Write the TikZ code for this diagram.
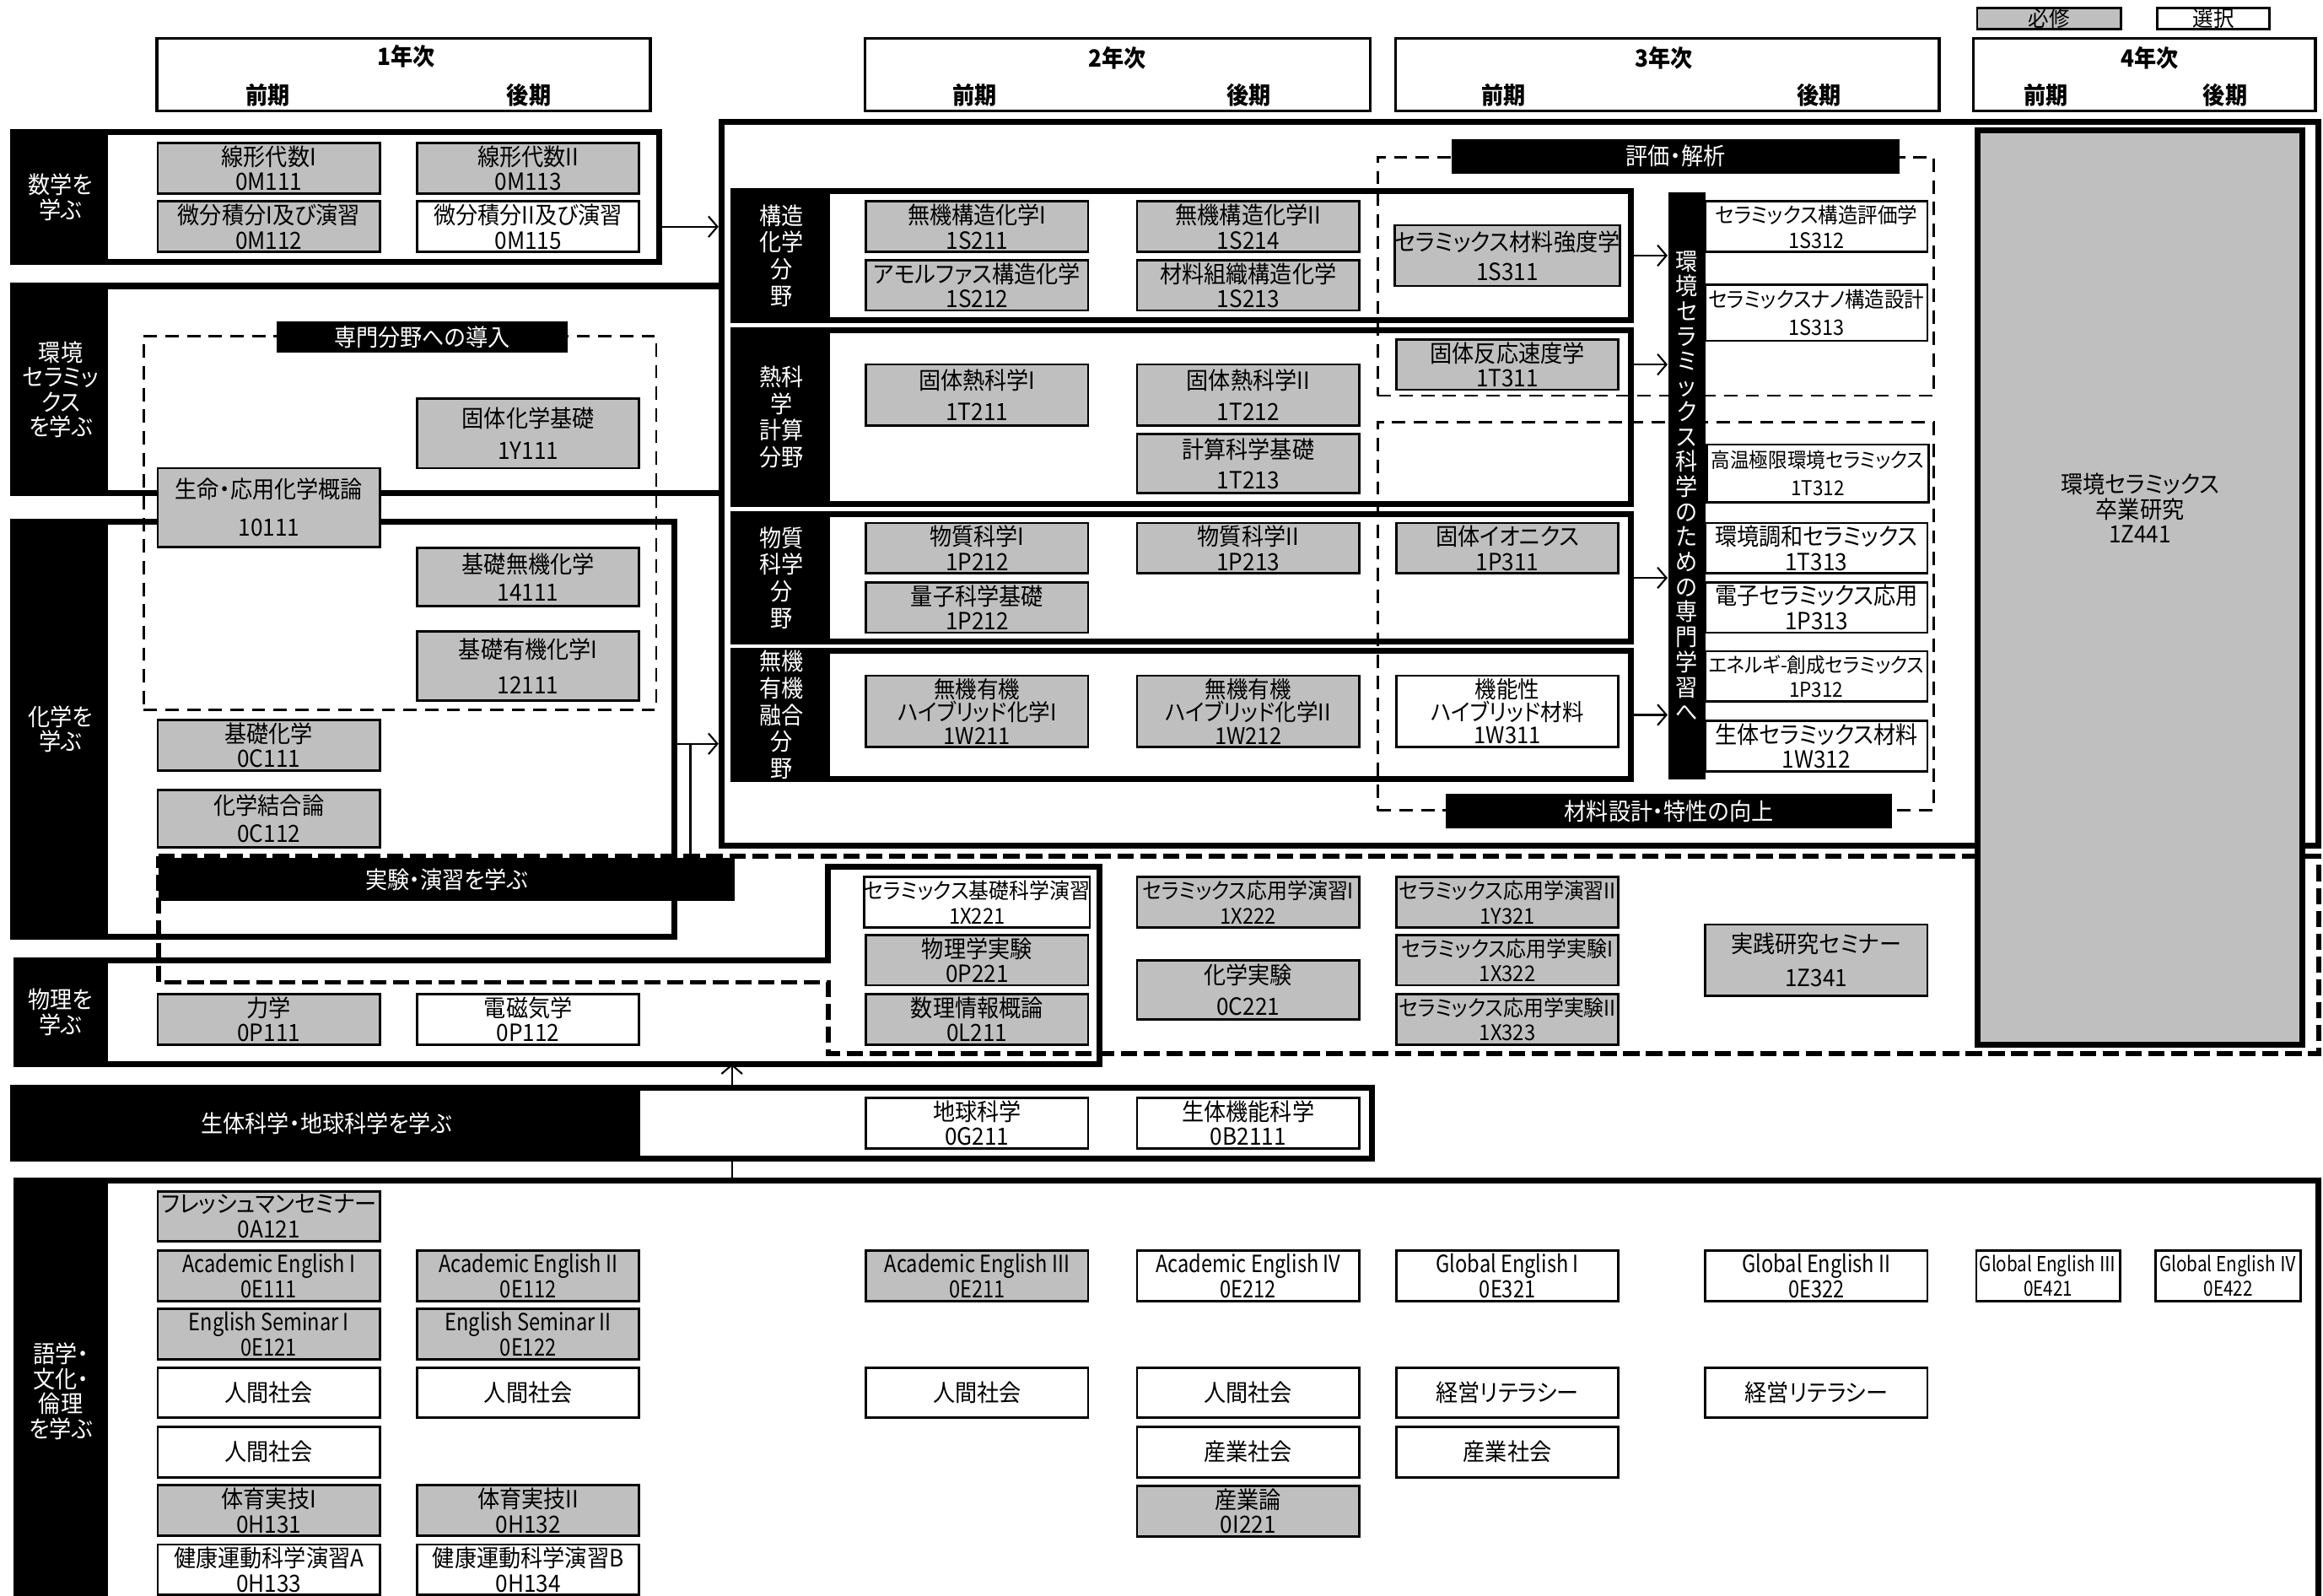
\documentclass[tikz,border=0pt]{standalone}
\usepackage{fontspec}
\setmainfont{Noto Sans CJK JP}[FakeStretch=0.93,RawFeature=+palt]
\newfontfamily\narrowfont{Noto Sans CJK JP}[FakeStretch=0.84]
\usepackage{tikz}
\usetikzlibrary{arrows.meta,calc,positioning}
\definecolor{reqgray}{RGB}{191,191,191}
\newcommand{\pxunit}{0.017564cm}
\newcommand{\cf}{\fontsize{8}{8.4}\selectfont}
\newcommand{\hybfont}{\fontsize{7.8}{7.8}\selectfont\lineskiplimit-4pt\relax}

\begin{document}
\begin{tikzpicture}[
    x=\pxunit, y=-\pxunit,
    bw/.style={minimum width=#1*\pxunit},
    bh/.style={minimum height=#1*\pxunit},
    grp/.style={draw, line width=2pt, inner sep=0pt},
    glabel/.style={fill=black, text=white, inner sep=0pt, align=center, font=\cf},
    flabel/.style={glabel, bw=65, font=\fontsize{8}{9}\selectfont},
    course/.style={draw, line width=0.8pt, inner sep=0pt, align=center, font=\cf, bw=150, bh=34},
    req/.style={course, fill=reqgray},
    opt/.style={course, fill=white},
    tight/.style={font=\fontsize{7.3}{8.4}\selectfont},
    rtight/.style={font=\fontsize{7.2}{8.4}\selectfont},
    hyb/.style={font=\hybfont},
    eng/.style={font=\narrowfont\fontsize{8}{8.4}\selectfont},
    yearbox/.style={draw, line width=1pt, bh=49, inner sep=0pt},
    yeartext/.style={font=\bfseries\cf, inner sep=0pt},
    thindash/.style={draw, line width=0.8pt, dash pattern=on 4.5pt off 2.8pt, inner sep=0pt},
    labdash/.style={line width=1.6pt, dash pattern=on 5.5pt off 2.2pt},
    arr/.style={-{Straight Barb[length=3pt,width=7pt]}, line width=0.6pt}
]
    \useasboundingbox (0,0) rectangle (1568,1077);

    \node[course, fill=reqgray, bw=97, bh=14, font=\fontsize{7.5}{7.5}\selectfont] (legreq) at (1383,12.5) {必修};
    \node[course, fill=white, bw=76, bh=14, font=\fontsize{7.5}{7.5}\selectfont] (legopt) at (1494,12.5) {選択};

    \node[yearbox, bw=333] (yr1) at (272.5,50.5) {};
    \node[yeartext] (yr1t) at (274,38) {1年次};
    \node[yeartext] (yr1a) at (181,64) {前期};
    \node[yeartext] (yr1b) at (357,64) {後期};
    \node[yearbox, bw=341] (yr2) at (754.5,50.5) {};
    \node[yeartext] (yr2t) at (754,39) {2年次};
    \node[yeartext] (yr2a) at (658,64) {前期};
    \node[yeartext] (yr2b) at (843,64) {後期};
    \node[yearbox, bw=367] (yr3) at (1125.5,50.5) {};
    \node[yeartext] (yr3t) at (1123,39) {3年次};
    \node[yeartext] (yr3a) at (1015,64) {前期};
    \node[yeartext] (yr3b) at (1228,64) {後期};
    \node[yearbox, bw=231] (yr4) at (1447.5,50.5) {};
    \node[yeartext] (yr4t) at (1451,39) {4年次};
    \node[yeartext] (yr4a) at (1381,64) {前期};
    \node[yeartext] (yr4b) at (1502,64) {後期};

    \node[grp, bw=1078, bh=489] (spec) at (1026,326.5) {};
    \node[grp, bw=436, bh=88] (math) at (227,133) {};
    \node[grp, bw=478, bh=140] (env) at (248,263) {};
    \node[grp, bw=446, bh=280] (chem) at (232,492) {};
    \node[grp, bw=917, bh=48] (bio) at (467.5,758) {};
    \draw[line width=2pt] (9,648) -- (559,648) -- (559,585) -- (742,585) -- (742,718) -- (9,718);
    \draw[line width=2pt] (9,797) -- (1565,797) -- (1565,1082);

    \node[thindash, bw=346, bh=252] (intro) at (270,353) {};
    \node[thindash, bw=375, bh=161] (eval) at (1117.5,186.5) {};
    \node[thindash, bw=375, bh=262] (design) at (1117.5,416) {};
    \draw[labdash] (107,578) -- (1565,578) -- (1565,711) -- (559,711) -- (559,663) -- (107,663) -- cycle;

    \node[grp, bw=606, bh=87] (fstruct) at (798,172.5) {};
    \node[grp, bw=606, bh=117] (fthermo) at (798,281.5) {};
    \node[grp, bw=606, bh=86] (fmat) at (798,390) {};
    \node[grp, bw=606, bh=87] (fhyb) at (798,482.5) {};

    \node[glabel, bw=64, bh=88] (lmath) at (41,133) {数学を\\学ぶ};
    \node[glabel, bw=64, bh=140] (lenv) at (41,263) {環境\\セラミッ\\クス\\を学ぶ};
    \node[glabel, bw=64, bh=280] (lchem) at (41,492) {化学を\\学ぶ};
    \node[glabel, bw=64, bh=70] (lphys) at (41,683) {物理を\\学ぶ};
    \node[glabel, bw=423, bh=48] (lbio) at (220.5,758) {生体科学・地球科学を学ぶ};
    \node[glabel, bw=64, bh=284] (llang) at (41,939) {語学・\\文化・\\倫理\\を学ぶ};
    \node[flabel, bh=87] (lstruct) at (527.5,172.5) {構造\\化学\\分\\野};
    \node[flabel, bh=117] (lthermo) at (527.5,281.5) {熱科\\学\\計算\\分野};
    \node[flabel, bh=86] (lmat) at (527.5,390) {物質\\科学\\分\\野};
    \node[flabel, bh=87] (lhyb) at (527.5,482.5) {無機\\有機\\融合\\分\\野};
    \node[glabel, bw=196, bh=21] (lintro) at (285,227.5) {専門分野への導入};
    \node[glabel, bw=302, bh=23] (leval) at (1131,105.5) {評価・解析};
    \node[glabel, bw=301, bh=23] (ldesign) at (1126.5,547.5) {材料設計・特性の向上};
    \node[glabel, bw=389, bh=29] (llab) at (301.5,593.5) {実験・演習を学ぶ};

    \node[req] (m111) at (181.5,113.5) {線形代数I\\0M111};
    \node[req] (m113) at (356.5,113.5) {線形代数II\\0M113};
    \node[req] (m112) at (181.5,153) {微分積分I及び演習\\0M112};
    \node[opt] (m115) at (356.5,153) {微分積分II及び演習\\0M115};

    \node[req, bh=47] (y111) at (356.5,292.5) {固体化学基礎\\[2.5pt]1Y111};
    \node[req, bh=53] (a111) at (181.5,342.5) {生命・応用化学概論\\[4.5pt]10111};
    \node[req, bh=39] (i111) at (356.5,389.5) {基礎無機化学\\[1pt]14111};
    \node[req, bh=47] (o111) at (356.5,449.5) {基礎有機化学I\\[3.5pt]12111};
    \node[req] (c111) at (181.5,503) {基礎化学\\0C111};
    \node[req, bh=39] (c112) at (181.5,552.5) {化学結合論\\[1pt]0C112};

    \node[req] (s211) at (659.5,153) {無機構造化学I\\1S211};
    \node[req] (s212) at (659.5,192.5) {アモルファス構造化学\\1S212};
    \node[req] (s214) at (842.5,153) {無機構造化学II\\1S214};
    \node[req] (s213) at (842.5,192.5) {材料組織構造化学\\1S213};
    \node[req, bh=41] (s311) at (1017.5,172.5) {セラミックス材料強度学\\[1.5pt]1S311};
    \node[req, bh=41] (t211) at (659.5,266.5) {固体熱科学I\\[2pt]1T211};
    \node[req, bh=41] (t212) at (842.5,266.5) {固体熱科学II\\[2pt]1T212};
    \node[req, bh=40] (t213) at (842.5,313) {計算科学基礎\\[2pt]1T213};
    \node[req] (t311) at (1017.5,246) {固体反応速度学\\1T311};
    \node[req] (p212) at (659.5,370) {物質科学I\\1P212};
    \node[req] (q212) at (659.5,410) {量子科学基礎\\1P212};
    \node[req] (p213) at (842.5,370) {物質科学II\\1P213};
    \node[req] (p311) at (1017.5,370) {固体イオニクス\\1P311};
    \node[req, bh=48, hyb] (w211) at (659.5,480) {無機有機\\ハイブリッド化学I\\1W211};
    \node[req, bh=48, hyb] (w212) at (842.5,480) {無機有機\\ハイブリッド化学II\\1W212};
    \node[opt, bh=48, hyb] (w311) at (1017.5,480) {機能性\\ハイブリッド材料\\1W311};

    \node[opt, rtight] (s312) at (1226,153) {セラミックス構造評価学\\1S312};
    \node[opt, bh=38, rtight] (s313) at (1226,211) {セラミックスナノ構造設計\\[1pt]1S313};
    \node[opt, bh=39, font=\fontsize{6.9}{8.4}\selectfont] (t312) at (1227,319.5) {高温極限環境セラミックス\\[1pt]1T312};
    \node[opt] (t313) at (1226,370) {環境調和セラミックス\\1T313};
    \node[opt] (p313) at (1226,410) {電子セラミックス応用\\1P313};
    \node[opt, font=\fontsize{6.9}{8.4}\selectfont] (p312) at (1226,456.5) {エネルギ-創成セラミックス\\1P312};
    \node[opt] (w312) at (1226,503.5) {生体セラミックス材料\\1W312};

    \node[opt, tight] (x221) at (659.5,609) {セラミックス基礎科学演習\\1X221};
    \node[req] (p221) at (659.5,648) {物理学実験\\0P221};
    \node[req] (l211) at (659.5,688) {数理情報概論\\0L211};
    \node[req, tight] (x222) at (842.5,609) {セラミックス応用学演習I\\1X222};
    \node[req, bh=40] (c221) at (842.5,668) {化学実験\\[2pt]0C221};
    \node[req, tight] (y321) at (1017.5,609) {セラミックス応用学演習II\\1Y321};
    \node[req, tight] (x322) at (1017.5,648) {セラミックス応用学実験I\\1X322};
    \node[req, tight] (x323) at (1017.5,688) {セラミックス応用学実験II\\1X323};
    \node[req, bh=48] (z341) at (1226,648) {実践研究セミナー\\[3pt]1Z341};

    \node[req] (p111) at (181.5,688) {力学\\0P111};
    \node[opt] (p112) at (356.5,688) {電磁気学\\0P112};

    \node[opt] (g211) at (659.5,758) {地球科学\\0G211};
    \node[opt] (b2111) at (842.5,758) {生体機能科学\\0B2111};

    \node[req] (a121) at (181.5,821) {フレッシュマンセミナー\\0A121};
    \node[req, eng] (e111) at (181.5,861) {Academic English I\\0E111};
    \node[req, eng] (e112) at (356.5,861) {Academic English II\\0E112};
    \node[req, eng] (e121) at (181.5,900.5) {English Seminar I\\0E121};
    \node[req, eng] (e122) at (356.5,900.5) {English Seminar II\\0E122};
    \node[opt] (hs1) at (181.5,940) {人間社会};
    \node[opt] (hs2) at (356.5,940) {人間社会};
    \node[opt] (hs3) at (181.5,980) {人間社会};
    \node[req] (h131) at (181.5,1019.5) {体育実技I\\0H131};
    \node[req] (h132) at (356.5,1019.5) {体育実技II\\0H132};
    \node[opt] (h133) at (181.5,1059.5) {健康運動科学演習A\\0H133};
    \node[opt] (h134) at (356.5,1059.5) {健康運動科学演習B\\0H134};
    \node[req, eng] (e211) at (659.5,861) {Academic English III\\0E211};
    \node[opt, eng] (e212) at (842.5,861) {Academic English IV\\0E212};
    \node[opt, eng] (e321) at (1017.5,861) {Global English I\\0E321};
    \node[opt, eng] (e322) at (1226,861) {Global English II\\0E322};
    \node[opt, bw=97, font=\narrowfont\fontsize{7}{8.4}\selectfont] (e421) at (1382.5,861) {Global English Ⅲ\\0E421};
    \node[opt, bw=98, font=\narrowfont\fontsize{7}{8.4}\selectfont] (e422) at (1504,861) {Global English Ⅳ\\0E422};
    \node[opt] (hs4) at (659.5,940) {人間社会};
    \node[opt] (hs5) at (842.5,940) {人間社会};
    \node[opt] (kl1) at (1017.5,940) {経営リテラシー};
    \node[opt] (kl2) at (1226,940) {経営リテラシー};
    \node[opt] (ss1) at (842.5,980) {産業社会};
    \node[opt] (ss2) at (1017.5,980) {産業社会};
    \node[req] (i221) at (842.5,1020) {産業論\\0I221};

    \node[glabel, bw=25, bh=396, font=\fontsize{8}{8.45}\selectfont] (bar) at (1138.5,328) {環\\境\\セ\\ラ\\ミ\\ッ\\ク\\ス\\科\\学\\の\\た\\め\\の\\専\\門\\学\\習\\へ};
    \node[draw, fill=reqgray, line width=2pt, bw=219, bh=617] (grad) at (1444.5,396.5) {};
    \node[align=center, font=\cf] (gradtext) at (1444.5,343) {環境セラミックス\\卒業研究\\1Z441};

    \coordinate (chemjoin) at (466,502);
    \coordinate (labtop) at (466,578);
    \coordinate (physbot) at (494,718);
    \coordinate (langtop) at (494,797);

    \draw[arr] (math.east |- m115) -- (spec.west |- m115);
    \draw[arr] (chem.east |- chemjoin) -- (spec.west |- chemjoin);
    \draw[line width=0.6pt] (labtop) -- (chemjoin);
    \draw[arr] (bio.north -| physbot) -- (physbot);
    \draw[line width=0.6pt] (langtop) -- (bio.south -| langtop);
    \draw[arr] (fstruct.east) -- (bar.west |- fstruct.east);
    \draw[arr] (fthermo.east |- t311) -- (bar.west |- t311);
    \draw[arr] (fmat.east) -- (bar.west |- fmat.east);
    \draw[arr] (fhyb.east) -- (bar.west |- fhyb.east);
\end{tikzpicture}
\end{document}
